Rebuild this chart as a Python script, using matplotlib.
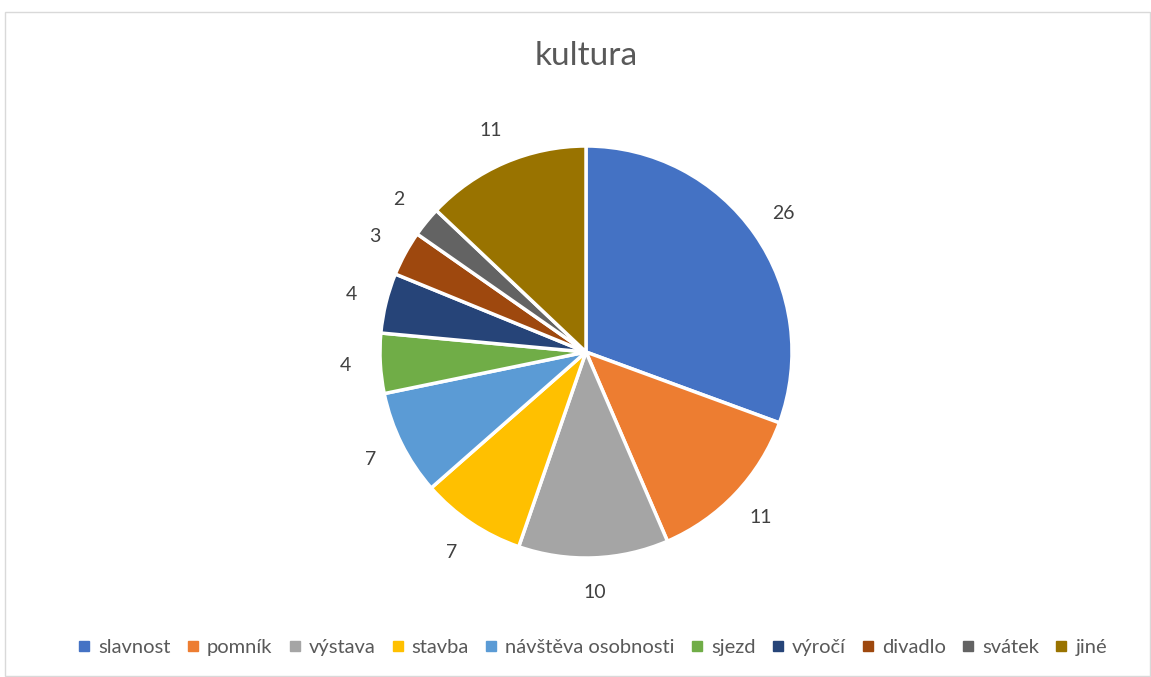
import matplotlib.pyplot as plt
from matplotlib.patches import Rectangle
from matplotlib.lines import Line2D
import numpy as np

# ── Data ──────────────────────────────────────────────
categories = ["slavnost", "pomník", "výstava", "stavba", "návštěva osobnosti",
              "sjezd", "výročí", "divadlo", "svátek", "jiné"]
values = [26, 11, 10, 7, 7, 4, 4, 3, 2, 11]
colors = ["#4472C4", "#ED7D31", "#A5A5A5", "#FFC000", "#5B9BD5",
          "#70AD47", "#264478", "#9E480E", "#636363", "#997300"]

W, H = 1151, 677
plt.rcParams['font.family'] = ['Lato', 'DejaVu Sans']

fig = plt.figure(figsize=(W / 100, H / 100), dpi=100)
ax = fig.add_axes([0, 0, 1, 1])

cx, cy, r = 586, H - 352, 206
wedges, _ = ax.pie(values, colors=colors, startangle=90, counterclock=False,
                   center=(cx, cy), radius=r, frame=True,
                   wedgeprops=dict(edgecolor="white", linewidth=2.5))
ax.set_xlim(0, W)
ax.set_ylim(0, H)
ax.set_aspect('equal')
ax.axis('off')

# chart border
ax.add_patch(Rectangle((5, 1), W - 6, H - 13, fill=False, edgecolor="#D9D9D9", lw=1))

# data labels
for w, v in zip(wedges, values):
    ang = np.deg2rad((w.theta1 + w.theta2) / 2)
    d = r * 1.17
    ax.text(cx + d * np.cos(ang), cy + d * np.sin(ang), str(v),
            ha='center', va='center', fontsize=14, color="#404040")

ax.text(cx, H - 56, "kultura", ha='center', va='center', fontsize=24, color="#595959")

handles = [Line2D([], [], marker='s', linestyle='', color=c, markersize=7) for c in colors]
fig.legend(handles, categories, loc='center', bbox_to_anchor=(592 / W, 1 - 647 / H),
           ncol=len(categories), frameon=False, fontsize=14.5, labelcolor="#595959",
           handlelength=0.7, handletextpad=0.35, columnspacing=0.75)

fig.savefig("out.png", dpi=100)
